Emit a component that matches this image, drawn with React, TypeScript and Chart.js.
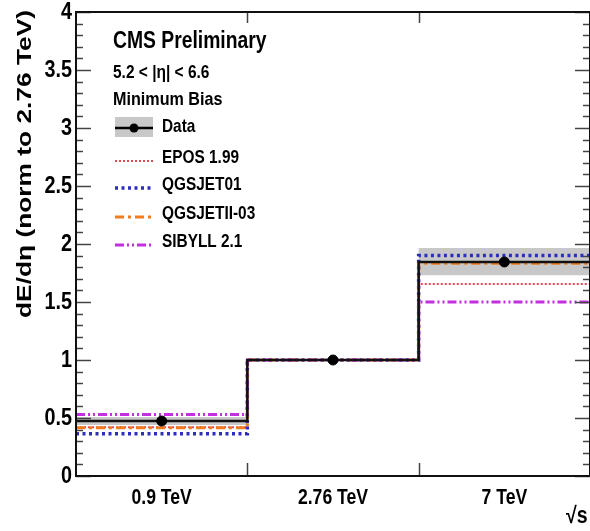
import React, { useEffect, useRef } from 'react';
import { Chart, registerables } from 'chart.js';

Chart.register(...registerables);

// ---- data ----
const categories = ['0.9 TeV', '2.76 TeV', '7 TeV'];
const dataValues = [0.474, 1.0, 1.845];
const dataErrUp = [0.035, 0.0, 0.12];
const dataErrDown = [0.035, 0.0, 0.115];
const eposValues = [0.42, 1.0, 1.655];
const qgsjet01Values = [0.365, 1.0, 1.9];
const qgsjetII03Values = [0.415, 1.0, 1.835];
const sibyllValues = [0.53, 1.0, 1.5];
const yTickValues = [0, 0.5, 1, 1.5, 2, 2.5, 3, 3.5, 4];
const yTickLabels = ['0', '0.5', '1', '1.5', '2', '2.5', '3', '3.5', '4'];
const seriesNames = ['EPOS 1.99', 'QGSJET01', 'QGSJETII-03', 'SIBYLL 2.1'];

// ---- styles ----
const FONT = '"Liberation Sans", Arial, Helvetica, sans-serif';
const modelStyles = [
  { color: '#e24a55', dash: [2, 2], width: 2 },
  { color: '#2e2ebd', dash: [3, 3.5], width: 3.5 },
  { color: '#f07c1e', dash: [9, 4, 3, 4], width: 3 },
  { color: '#c22ee0', dash: [9, 3, 2, 3, 2, 3], width: 3 },
];

const steps = (vals: number[]) =>
  vals.flatMap((v, i) => [
    { x: i, y: v },
    { x: i + 1, y: v },
  ]);

// draw text with horizontal compression (condensed look)
const drawText = (
  ctx: CanvasRenderingContext2D,
  text: string,
  x: number,
  y: number,
  size: number,
  hscale: number,
  align: CanvasTextAlign = 'left'
) => {
  ctx.save();
  ctx.translate(x, y);
  ctx.scale(hscale, 1);
  ctx.font = `bold ${size}px ${FONT}`;
  ctx.textAlign = align;
  ctx.textBaseline = 'middle';
  ctx.fillStyle = '#000';
  ctx.fillText(text, 0, 0);
  ctx.restore();
};

const decorPlugin = {
  id: 'cmsDecor',
  afterDraw(chart: any) {
    const { ctx, chartArea: a, scales } = chart;
    const x = scales.x;
    const y = scales.y;
    const line = (x1: number, y1: number, x2: number, y2: number) => {
      ctx.beginPath();
      ctx.moveTo(x1, y1);
      ctx.lineTo(x2, y2);
      ctx.stroke();
    };
    ctx.save();
    // y ticks (major every 0.5, minor every 0.1), both sides
    ctx.strokeStyle = '#444';
    ctx.lineWidth = 1.5;
    const yMax = yTickValues[yTickValues.length - 1];
    for (let i = 0; i <= Math.round(yMax * 10); i++) {
      const py = Math.round(y.getPixelForValue(i / 10)) + 0.5;
      const major = i % 5 === 0;
      const len = major ? 15 : 7;
      line(a.left, py, a.left + len, py);
      line(a.right, py, a.right - len, py);
    }
    // x ticks at bin edges
    for (let i = 1; i < categories.length; i++) {
      const px = Math.round(x.getPixelForValue(i)) + 0.5;
      line(px, a.bottom, px, a.bottom - 13);
      line(px, a.top, px, a.top + 11);
    }
    // frame
    ctx.strokeStyle = '#111';
    ctx.lineWidth = 2;
    ctx.strokeRect(a.left, a.top, a.width, a.height);

    // tick labels
    yTickValues.forEach((v, i) => {
      drawText(ctx, yTickLabels[i], a.left - 4, y.getPixelForValue(v) + 1, 23, 0.86, 'right');
    });
    categories.forEach((c, i) => {
      drawText(ctx, c, x.getPixelForValue(i + 0.5), a.bottom + 22, 22, 0.8, 'center');
    });

    // y title (stretched along its length)
    ctx.fillStyle = '#000';
    ctx.font = `bold 20px ${FONT}`;
    const title = 'dE/dη (norm to 2.76 TeV)';
    const w = ctx.measureText(title).width;
    ctx.save();
    ctx.translate(25, 164);
    ctx.rotate(-Math.PI / 2);
    ctx.scale(308 / w, 1);
    ctx.textAlign = 'center';
    ctx.textBaseline = 'middle';
    ctx.fillText(title, 0, 0);
    ctx.restore();

    // sqrt(s)
    drawText(ctx, '√s', 566, 517, 23, 0.85, 'left');

    // header texts
    drawText(ctx, 'CMS Preliminary', 113, 42, 23, 0.84);
    drawText(ctx, '5.2 < |η| < 6.6', 113, 73, 18, 0.86);
    drawText(ctx, 'Minimum Bias', 113, 100, 19, 0.85);

    // legend
    const lx0 = 115;
    const lx1 = 153;
    const tx = 162;
    const dy = 127;
    ctx.fillStyle = '#c8c8c8';
    ctx.fillRect(lx0, dy - 10, lx1 - lx0, 20);
    ctx.strokeStyle = '#000';
    ctx.lineWidth = 2.5;
    ctx.setLineDash([]);
    line(lx0, dy + 1, lx1, dy + 1);
    ctx.fillStyle = '#000';
    ctx.beginPath();
    ctx.arc((lx0 + lx1) / 2, dy + 1, 4.5, 0, Math.PI * 2);
    ctx.fill();
    drawText(ctx, 'Data', tx, dy, 19, 0.81);
    const ys = [158, 185, 214, 242];
    seriesNames.forEach((name, i) => {
      const s = modelStyles[i];
      ctx.strokeStyle = s.color;
      ctx.lineWidth = s.width;
      ctx.setLineDash(s.dash);
      line(lx0, ys[i] + 3, lx1, ys[i] + 3);
      ctx.setLineDash([]);
      drawText(ctx, name, tx, ys[i], 19, 0.81);
    });
    ctx.restore();
  },
};

export default function App() {
  const ref = useRef<HTMLCanvasElement | null>(null);

  useEffect(() => {
    document.body.style.margin = '0';
    const canvas = ref.current;
    if (!canvas) return;
    const modelSeries = [eposValues, qgsjet01Values, qgsjetII03Values, sibyllValues];
    const chart = new Chart(canvas, {
      type: 'line',
      data: {
        datasets: [
          {
            label: 'band-up',
            data: steps(dataValues.map((v, i) => v + dataErrUp[i])),
            borderWidth: 0,
            pointRadius: 0,
            fill: false,
            order: 20,
          } as any,
          {
            label: 'band-down',
            data: steps(dataValues.map((v, i) => v - dataErrDown[i])),
            borderWidth: 0,
            pointRadius: 0,
            fill: '-1',
            backgroundColor: 'rgba(190,190,190,0.85)',
            order: 19,
          } as any,
          ...modelSeries.map((vals, i) => ({
            label: seriesNames[i],
            data: steps(vals),
            borderColor: modelStyles[i].color,
            borderWidth: modelStyles[i].width,
            borderDash: modelStyles[i].dash,
            pointRadius: 0,
            fill: false,
            order: 10 - i,
          })),
          {
            label: 'Data',
            data: steps(dataValues),
            borderColor: '#111',
            borderWidth: 2.5,
            pointRadius: 0,
            fill: false,
            order: 1,
          },
          {
            label: 'Data points',
            data: dataValues.map((v, i) => ({ x: i + 0.5, y: v })),
            showLine: false,
            pointRadius: 5,
            pointBackgroundColor: '#000',
            pointBorderColor: '#000',
            order: 0,
          },
        ],
      },
      options: {
        animation: false,
        responsive: false,
        devicePixelRatio: 1,
        layout: { autoPadding: false, padding: { top: 12, right: 0, left: 0, bottom: 0 } },
        plugins: { legend: { display: false }, tooltip: { enabled: false } },
        elements: { line: { tension: 0 } },
        scales: {
          x: {
            type: 'linear',
            min: 0,
            max: categories.length,
            grid: { display: false, drawTicks: false },
            border: { display: false },
            ticks: { display: false },
            afterFit: (scale: any) => {
              scale.height = 55;
              scale.paddingLeft = 0;
              scale.paddingRight = 0;
              scale.paddingTop = 0;
              scale.paddingBottom = 0;
            },
          },
          y: {
            type: 'linear',
            min: yTickValues[0],
            max: yTickValues[yTickValues.length - 1],
            grid: { display: false, drawTicks: false },
            border: { display: false },
            ticks: { display: false },
            afterFit: (scale: any) => {
              scale.width = 76;
              scale.paddingLeft = 0;
              scale.paddingRight = 0;
              scale.paddingTop = 0;
              scale.paddingBottom = 0;
            },
          },
        },
      } as any,
      plugins: [decorPlugin],
    });
    return () => chart.destroy();
  }, []);

  return (
    <div style={{ position: 'absolute', left: 0, top: 0, width: 590, height: 531, background: '#fff' }}>
      <canvas ref={ref} width={590} height={531} style={{ width: 590, height: 531, display: 'block' }} />
    </div>
  );
}
